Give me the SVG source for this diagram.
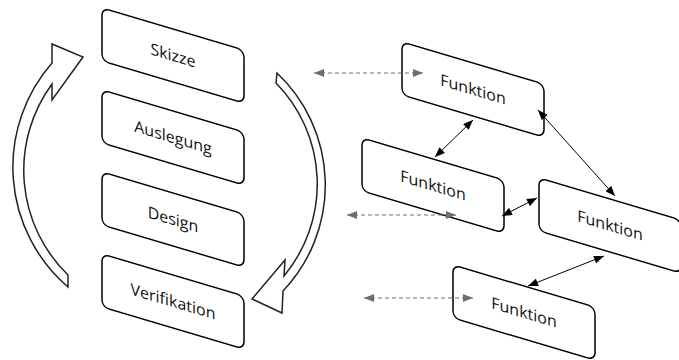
<svg xmlns="http://www.w3.org/2000/svg" width="679" height="360" viewBox="0 0 679 360">
  <style>
    .box { fill: #ffffff; stroke: #000000; stroke-width: 1.5; }
    .lbl { font-family: "Open Sans", "Liberation Sans", sans-serif; font-size: 16px; fill: #111111; text-anchor: middle; }
    .cycle { fill: #ffffff; stroke: #222222; stroke-width: 1.5; stroke-linejoin: miter; }
    .link { stroke: #000000; stroke-width: 1; fill: none; marker-start: url(#headBlack); marker-end: url(#headBlack); }
    .ext { stroke: #6e6e6e; stroke-width: 1.2; stroke-dasharray: 4 3; fill: none; marker-start: url(#headGray); marker-end: url(#headGray); }
  </style>
  <defs>
    <marker id="headBlack" viewBox="0 0 10 8" refX="10" refY="4" markerWidth="11" markerHeight="8" markerUnits="userSpaceOnUse" orient="auto-start-reverse">
      <path d="M0,0 L10,4 L0,8 Z" fill="#000000"/>
    </marker>
    <marker id="headGray" viewBox="0 0 10 8" refX="10" refY="4" markerWidth="10" markerHeight="8" markerUnits="userSpaceOnUse" orient="auto-start-reverse">
      <path d="M0,0 L10,4 L0,8 Z" fill="#6e6e6e"/>
    </marker>
  </defs>

  <rect width="679" height="360" fill="#ffffff"/>

  <!-- circular process arrows -->
  <g id="cycle-up">
    <path class="cycle" d="M68,287 A158,158 0 0 1 52,63 L52,44 L83,57 L52,100 L52,84 A146,146 0 0 0 68,275 Z"/>
  </g>
  <g id="cycle-down">
    <path class="cycle" d="M277,73 A154,154 0 0 1 283,291 L282,313 L252,299 L285,260 L284,276 A144,144 0 0 0 276,83 Z"/>
  </g>

  <!-- process stages -->
  <g id="skizze" transform="translate(102,8) skewY(16.5)">
    <rect class="box" width="142" height="53" rx="7"/>
    <text class="lbl" x="71" y="32">Skizze</text>
  </g>
  <g id="auslegung" transform="translate(102,90) skewY(16.5)">
    <rect class="box" width="142" height="53" rx="7"/>
    <text class="lbl" x="71" y="32">Auslegung</text>
  </g>
  <g id="design" transform="translate(102,172) skewY(16.5)">
    <rect class="box" width="142" height="53" rx="7"/>
    <text class="lbl" x="71" y="32">Design</text>
  </g>
  <g id="verifikation" transform="translate(102,254) skewY(16.5)">
    <rect class="box" width="142" height="53" rx="7"/>
    <text class="lbl" x="71" y="32">Verifikation</text>
  </g>

  <!-- function blocks -->
  <g id="funktion-1" transform="translate(402,42) skewY(16.5)">
    <rect class="box" width="142" height="53" rx="7"/>
    <text class="lbl" x="71" y="32">Funktion</text>
  </g>
  <g id="funktion-2" transform="translate(362,138) skewY(16.5)">
    <rect class="box" width="142" height="53" rx="7"/>
    <text class="lbl" x="71" y="32">Funktion</text>
  </g>
  <g id="funktion-3" transform="translate(539,178) skewY(16.5)">
    <rect class="box" width="142" height="53" rx="7"/>
    <text class="lbl" x="71" y="32">Funktion</text>
  </g>
  <g id="funktion-4" transform="translate(453,265) skewY(16.5)">
    <rect class="box" width="142" height="53" rx="7"/>
    <text class="lbl" x="71" y="32">Funktion</text>
  </g>

  <!-- connectors -->
  <g id="connectors">
    <line class="ext" x1="314" y1="73" x2="423" y2="73"/>
    <line class="ext" x1="347" y1="215" x2="456" y2="215"/>
    <line class="ext" x1="364" y1="298" x2="473" y2="298"/>
    <line class="link" x1="473" y1="120" x2="435" y2="157"/>
    <line class="link" x1="538" y1="110" x2="615" y2="196"/>
    <line class="link" x1="502" y1="216" x2="537" y2="198"/>
    <line class="link" x1="604" y1="256" x2="528" y2="286"/>
  </g>
</svg>
